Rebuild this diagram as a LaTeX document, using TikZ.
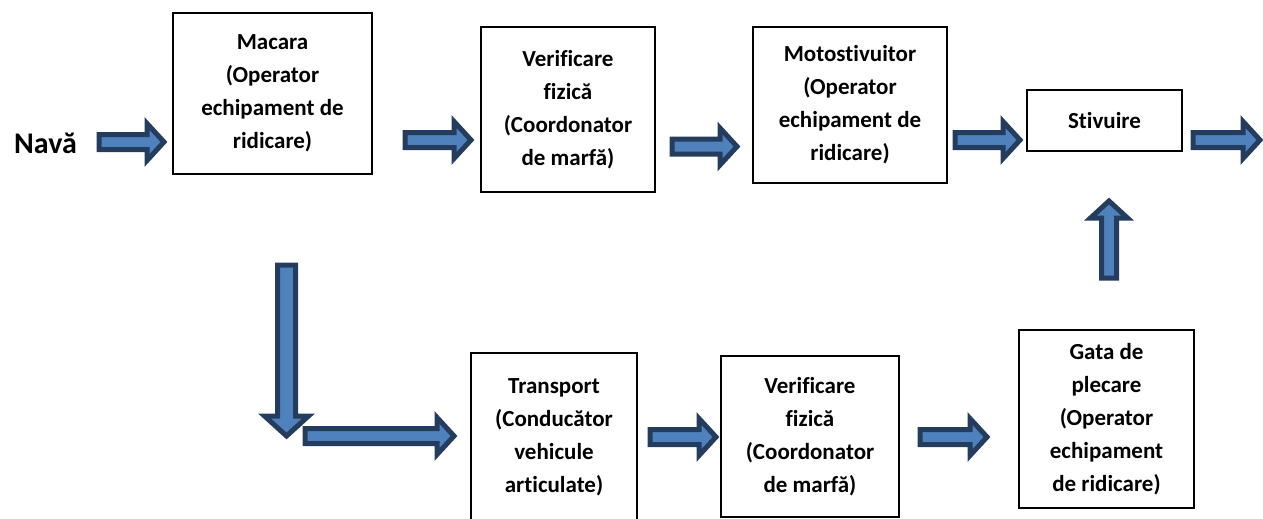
\documentclass[tikz,border=0pt]{standalone}
\usepackage{fontspec}
\setmainfont{Carlito}[Ligatures={NoCommon}]
\usetikzlibrary{calc}

\definecolor{arrowfill}{HTML}{4F81BD}
\definecolor{arrowline}{HTML}{243D5E}

\begin{document}
\begin{tikzpicture}[x=1pt, y=-1pt]

    \tikzset{%
    every block/.style={
        draw,
        line width=1.6pt,
        align=center,
        inner sep=0pt,
        font=\fontsize{23}{33}\selectfont\bfseries
        },
    block arrow/.style n args={3}{
        draw=arrowline,
        fill=arrowfill,
        line width=5pt,
        line join=miter,
        to path={
            ($(\tikztostart)!#1!90:(\tikztotarget)$)
            -- ($(\tikztotarget)!#3!(\tikztostart)!#1!-90:(\tikztostart)$)
            -- ($(\tikztotarget)!#3!(\tikztostart)!#2!-90:(\tikztostart)$)
            -- (\tikztotarget)
            -- ($(\tikztotarget)!#3!(\tikztostart)!#2!90:(\tikztostart)$)
            -- ($(\tikztotarget)!#3!(\tikztostart)!#1!90:(\tikztostart)$)
            -- ($(\tikztostart)!#1!-90:(\tikztotarget)$)
            -- cycle
            }
        },
    flow arrow/.style={block arrow={7.5pt}{18.5pt}{17pt}},
    wide arrow/.style={block arrow={9pt}{22pt}{20pt}},
    }

    \useasboundingbox (0,0) rectangle (1263,519);

    % Upper row
    \node [font=\fontsize{30}{36}\selectfont\bfseries, anchor=base] (nava) at (45.5,153) {Navă};
    \node [every block, minimum width=199pt, minimum height=161pt] (macara) at (272.5,93.5)
        {Macara\\(Operator\\echipament de\\ridicare)};
    \node [every block, minimum width=174pt, minimum height=165pt] (verif-1) at (568,109.5)
        {Verificare\\fizică\\(Coordonator\\de marfă)};
    \node [every block, minimum width=194pt, minimum height=156pt] (moto) at (850,105)
        {Motostivuitor\\(Operator\\echipament de\\ridicare)};
    \node [every block, minimum width=155pt, minimum height=61pt] (stiv) at (1104.5,120.5)
        {Stivuire};

    % Lower row
    \node [every block, minimum width=166pt, minimum height=169pt] (transp) at (554,437.5)
        {Transport\\(Conducător\\vehicule\\articulate)};
    \node [every block, minimum width=178pt, minimum height=161pt] (verif-2) at (810,436.5)
        {Verificare\\fizică\\(Coordonator\\de marfă)};
    \node [every block, minimum width=175pt, minimum height=178pt] (gata) at (1106.5,419)
        {Gata de\\plecare\\(Operator\\echipament\\de ridicare)};

    % Arrow ends
    \foreach \n/\xa/\ya/\xb/\yb in {nava/99/142/164/142, macara/405/140/471/140,
        verif-1/672/146.5/737/146.5, moto/955/140/1020/140, stiv/1193/140/1260/140,
        down/286.5/265/286.5/436, transp/650/437/716/437, verif-2/920/437/987/437,
        gata/1109/278/1109/201}
    {
        \coordinate (\n-s) at (\xa,\ya);
        \coordinate (\n-e) at (\xb,\yb);
    }
    \coordinate (turn-s) at (305,436);
    \coordinate (turn-e) at (454,436);

    % Flow arrows
    \foreach \n in {nava, macara, verif-1, moto, stiv, transp, verif-2, gata, turn}
    \draw [flow arrow] (\n-s) to (\n-e);
    \draw [wide arrow] (down-s) to (down-e);

\end{tikzpicture}
\end{document}
